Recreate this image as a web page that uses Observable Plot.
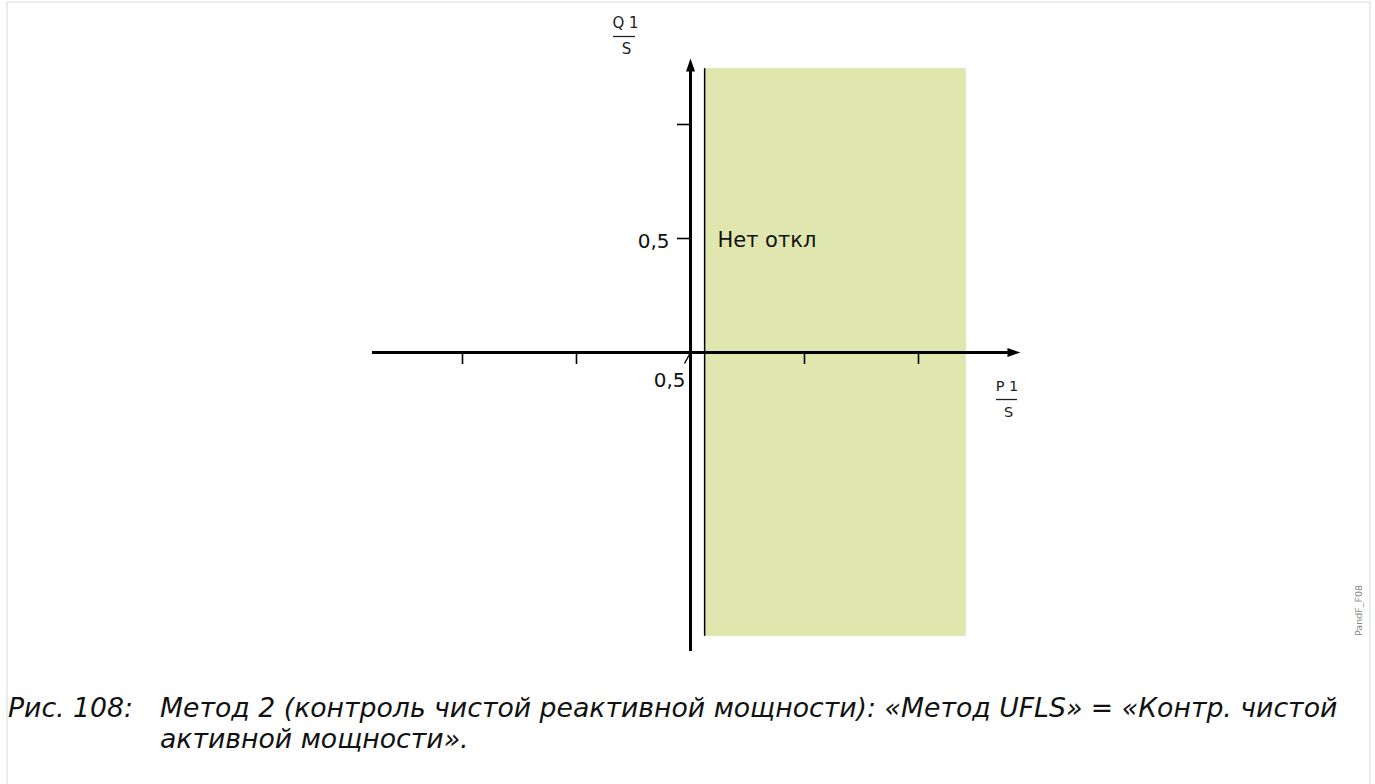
<!DOCTYPE html>
<html><head><meta charset="utf-8">
<script src="https://cdn.jsdelivr.net/npm/d3@7"></script>
<script src="https://cdn.jsdelivr.net/npm/@observablehq/plot@0.6"></script>
<style>
body{margin:0;background:#fff;font-family:"DejaVu Sans",sans-serif;}
#frame{position:absolute;left:6px;top:1px;width:1361px;height:800px;border:2px solid #ececec;border-bottom:none;z-index:2;pointer-events:none;}
#chart{position:absolute;left:0;top:0;z-index:1;}
#caption{position:absolute;left:8px;top:692px;font-family:"DejaVu Sans",sans-serif;font-style:italic;font-size:26.7px;line-height:31px;display:flex;color:#111;}
#caption .lab{width:152px;flex:none;}
#caption .txt{width:1200px;}
</style>
</head><body>
<div id="frame"></div>
<div id="chart"></div>
<div id="caption"><div class="lab">Рис. 108:</div><div class="txt">Метод 2 (контроль чистой реактивной мощности): «Метод UFLS» = «Контр. чистой активной мощности».</div></div>
<script>
// ---- data (units of P/S and Q/S) ----
const xTicks = [-1, -0.5, 0.5, 1];
const yTicks = [0.5, 1];
const yTickLabelValues = [0.5];
const yTickLabels = ["0,5"];
const originLabel = "0,5";
const zoneP = [0.062, 1.21];
const zoneQ = [-1.245, 1.245];
const zoneLabel = "Нет откл";
const axisP = [-1.395, 1.447];
const axisQ = [-1.311, 1.289];
const qLabel = ["Q 1", "S"];
const pLabel = ["P 1", "S"];
const figId = "PandF_F08";

// ---- layout ----
const W = 1375, H = 665, ox = 690, oy = 352, unit = 228;
const px = v => v / unit; // pixel length -> units
const font = "DejaVu Sans";

const chart = Plot.plot({
  width: W, height: H,
  marginLeft: 0, marginRight: 0, marginTop: 0, marginBottom: 0,
  x: {domain: [-ox / unit, (W - ox) / unit], axis: null},
  y: {domain: [-(H - oy) / unit, oy / unit], axis: null},
  style: {fontFamily: font, background: "transparent", overflow: "visible"},
  marks: [
    Plot.rect([{x1: zoneP[0], x2: zoneP[1], y1: zoneQ[0], y2: zoneQ[1]}], {x1: "x1", x2: "x2", y1: "y1", y2: "y2", fill: "#dfe7af"}),
    Plot.ruleX([zoneP[0]], {y1: zoneQ[0], y2: zoneQ[1], stroke: "black", strokeWidth: 1.5}),
    // axes
    Plot.ruleY([0], {x1: axisP[0], x2: axisP[1] - px(9), stroke: "black", strokeWidth: 3}),
    Plot.ruleX([0], {y1: axisQ[0], y2: axisQ[1] - px(9), stroke: "black", strokeWidth: 3}),
    Plot.vector([{x: axisP[1], y: 0}], {x: "x", y: "y", rotate: 90, length: 13, r: 4.5, shape: "spike", anchor: "end", fill: "black", stroke: "none"}),
    Plot.vector([{x: 0, y: axisQ[1]}], {x: "x", y: "y", rotate: 0, length: 13, r: 4.5, shape: "spike", anchor: "end", fill: "black", stroke: "none"}),
    // ticks
    Plot.ruleX(xTicks, {y1: 0, y2: -px(12), stroke: "black", strokeWidth: 1.6}),
    Plot.ruleY(yTicks, {x1: -px(13), x2: 0, stroke: "black", strokeWidth: 1.6}),
    Plot.text(yTickLabelValues, {x: -px(13), y: d => d, text: (d, i) => yTickLabels[i], textAnchor: "end", lineAnchor: "bottom", dx: -8, dy: 9, fontSize: 20, fill: "#111"}),
    // origin label with leader
    Plot.link([{x1: -px(6), y1: -px(11), x2: 0, y2: 0}], {x1: "x1", y1: "y1", x2: "x2", y2: "y2", stroke: "black", strokeWidth: 1.4}),
    Plot.text([originLabel], {x: 0, y: 0, text: d => d, textAnchor: "end", lineAnchor: "bottom", dx: -5, dy: 34, fontSize: 20, fill: "#111"}),
    // zone label
    Plot.text([zoneLabel], {x: px(27), y: 0.5, text: d => d, textAnchor: "start", lineAnchor: "bottom", dy: 8, fontSize: 21, fill: "#111"}),
    // Q/S label
    Plot.text([qLabel[0]], {x: px(625 - ox), y: px(oy - 36), text: d => d, lineAnchor: "bottom", dy: -9, fontSize: 15, fill: "#222"}),
    Plot.ruleY([px(oy - 36)], {x1: px(613 - ox), x2: px(635 - ox), stroke: "#222", strokeWidth: 1.3}),
    Plot.text([qLabel[1]], {x: px(626 - ox), y: px(oy - 36), text: d => d, lineAnchor: "bottom", dy: 17, fontSize: 15, fill: "#222"}),
    // P/S label
    Plot.text([pLabel[0]], {x: px(1006.5 - ox), y: px(oy - 399), text: d => d, lineAnchor: "bottom", dy: -9, fontSize: 14.5, fill: "#222"}),
    Plot.ruleY([px(oy - 399)], {x1: px(996 - ox), x2: px(1017 - ox), stroke: "#222", strokeWidth: 1.3}),
    Plot.text([pLabel[1]], {x: px(1008 - ox), y: px(oy - 399), text: d => d, lineAnchor: "bottom", dy: 17, fontSize: 14.5, fill: "#222"}),
    // figure id
    Plot.text([figId], {x: px(1358 - ox), y: px(oy - 610), text: d => d, rotate: -90, textAnchor: "middle", lineAnchor: "middle", fontSize: 9.5, fill: "#888"})
  ]
});
document.getElementById("chart").appendChild(chart);
</script>
</body></html>
